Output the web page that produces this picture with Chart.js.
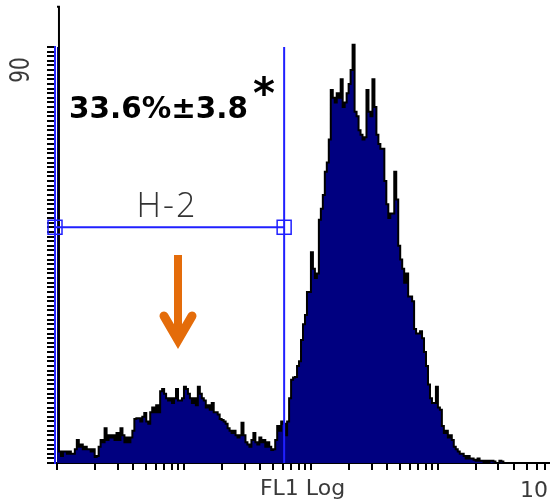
<!DOCTYPE html>
<html>
<head>
<meta charset="utf-8">
<script src="https://cdn.jsdelivr.net/npm/chart.js@4.4.1/dist/chart.umd.min.js"></script>
<style>
  body { margin: 0; background: #fff; overflow: hidden; }
</style>
</head>
<body>
<canvas id="myChart" width="550" height="504"></canvas>
<script>
// FL1 histogram: 256 channels, 4 log decades (64 channels per decade)
const counts = [
  98.7, 2.5, 1.5, 2.5, 2.5, 2, 2.5, 2, 2, 3,
  5, 3.5, 4, 3, 3.5, 3, 3, 2.5, 3, 1.3,
  1.5, 3.5, 5, 4.5, 7.5, 5, 6, 5.5, 6, 5,
  6.5, 5, 7.5, 6, 4.5, 5.5, 4.5, 5.5, 7, 9.5,
  9.7, 9.7, 9, 10, 10.8, 9, 8.5, 11, 12, 11,
  12.5, 11, 15.5, 16, 15, 14, 13.5, 14, 13, 14,
  16, 13.5, 13.5, 14, 16.5, 16, 15, 14, 13, 14,
  12.5, 16.5, 15, 14, 13.5, 12, 12.5, 11.5, 13, 11,
  11, 10.5, 9.5, 9.3, 9, 8.5, 7.5, 7, 6.5, 7,
  6, 5.5, 6, 8.7, 6, 4.5, 4, 3.5, 5, 6.5,
  4.5, 4, 5.5, 4.5, 5, 3.5, 4.5, 3.5, 2.8, 3,
  5, 8, 7, 9, 8.5, 6, 9, 14, 18, 18.5,
  18.6, 21, 22, 26.6, 30, 32, 37, 37, 45.6, 42,
  40, 41, 52.6, 55, 58, 63, 65, 70, 80.7, 79,
  78, 80, 79, 83, 77, 78, 80, 82, 85, 90.5,
  76, 75, 72, 71, 70, 70.5, 80.7, 76, 75, 83,
  77, 71, 69, 68, 68, 61, 56, 53, 54, 54,
  63, 57, 47, 44, 42, 39, 41, 36, 36, 35,
  29, 28, 28, 28.5, 27, 24, 21, 17, 14, 13,
  13, 16.5, 12, 11.5, 8, 6.5, 7, 5.5, 6, 5,
  3.5, 3, 2.5, 2, 2, 1.5, 1, 1.5, 1, 1,
  0.7, 0.5, 1, 0.5, 0.5, 0, 0.5, 0, 0.5, 0.5,
  0.3, 0, 0, 0.5, 0.3, 0, 0, 0, 0, 0,
  0, 0, 0, 0, 0, 0, 0, 0, 0, 0,
  0, 0, 0, 0, 0, 0, 0, 0, 0, 0,
  0, 0, 0, 0, 0, 0
];
const channelsPerDecade = 64;
const decades = [0, 1, 2, 3];
const minorSteps = [1, 2, 3, 4, 5, 6, 7, 8, 9];
const yMax = 90;
const yMaxLabel = '90';
const xEndLabel = '10';
const axisTitle = 'FL1 Log';
const gateName = 'H-2';
const gateRange = [-1, 114.5];   // channels
const gateLevel = 51;            // counts
const gateStat = '33.6%±3.8';
const arrowChannel = 61;

const xMin = -1, xMax = 248.5;
const blue = '#2020ff';

const overlay = {
  id: 'overlay',
  afterDatasetsDraw(chart) {
    const { ctx, scales: { x, y } } = chart;
    ctx.save();

    // gate marker H-2
    const gx0 = x.getPixelForValue(gateRange[0]);
    const gx1 = x.getPixelForValue(gateRange[1]);
    const gy = y.getPixelForValue(gateLevel);
    ctx.strokeStyle = blue;
    ctx.lineWidth = 2;
    ctx.beginPath();
    ctx.moveTo(gx1, y.getPixelForValue(yMax));
    ctx.lineTo(gx1, y.getPixelForValue(0));
    ctx.moveTo(gx0, gy);
    ctx.lineTo(gx1, gy);
    ctx.stroke();
    ctx.lineWidth = 1.5;
    ctx.strokeRect(gx0 - 7, gy - 7, 14, 14);
    ctx.strokeRect(gx1 - 7, gy - 7, 14, 14);

    ctx.fillStyle = '#333';
    ctx.font = '300 34px "Open Sans"';
    ctx.textAlign = 'center';
    ctx.textBaseline = 'alphabetic';
    ctx.letterSpacing = '2px';
    ctx.fillText(gateName, 167, 217);
    ctx.letterSpacing = '0px';

    // percentage in gate
    ctx.fillStyle = '#000';
    ctx.textAlign = 'left';
    ctx.font = 'bold 31px "DejaVu Sans"';
    ctx.fillText(gateStat, 69, 118, 179);
    ctx.font = 'bold 42px "DejaVu Sans"';
    ctx.fillText('*', 253, 108);

    // orange arrow
    const ax = x.getPixelForValue(arrowChannel);
    ctx.strokeStyle = '#e46c0a';
    ctx.lineWidth = 8;
    ctx.lineCap = 'butt';
    ctx.beginPath();
    ctx.moveTo(ax, 255);
    ctx.lineTo(ax, 334);
    ctx.stroke();
    ctx.lineWidth = 9;
    ctx.lineCap = 'round';
    ctx.lineJoin = 'miter';
    ctx.beginPath();
    ctx.moveTo(ax - 14, 316);
    ctx.lineTo(ax, 340);
    ctx.lineTo(ax + 14, 316);
    ctx.stroke();
    ctx.restore();
  },
  afterDraw(chart) {
    const { ctx, scales: { y } } = chart;
    ctx.save();
    ctx.fillStyle = '#3a3a3a';
    // rotated max count label
    ctx.translate(22.5, y.getPixelForValue(yMax) + 23);
    ctx.rotate(-Math.PI / 2);
    ctx.scale(1, 1.3);
    ctx.font = '20px "DejaVu Sans"';
    ctx.textAlign = 'center';
    ctx.textBaseline = 'middle';
    ctx.fillText(yMaxLabel, 0, 0);
    ctx.restore();

    ctx.save();
    ctx.fillStyle = '#3a3a3a';
    ctx.font = '22px "DejaVu Sans"';
    ctx.textAlign = 'right';
    ctx.fillText(xEndLabel, 548, 497);
    ctx.restore();
  }
};

const xTickChannels = decades
  .flatMap(d => minorSteps.map(k => channelsPerDecade * (d + Math.log10(k))))
  .filter(v => v >= xMin && v <= xMax);
const yTickValues = Array.from({ length: yMax + 1 }, (_, i) => i);

const ctx = document.getElementById('myChart').getContext('2d');
const myChart = new Chart(ctx, {
  type: 'line',
  data: {
    datasets: [{
      data: counts.map((c, i) => ({ x: i, y: c })),
      stepped: true,
      fill: 'origin',
      backgroundColor: '#000080',
      borderColor: '#000',
      borderWidth: 2,
      pointRadius: 0,
      clip: false
    }]
  },
  options: {
    responsive: false,
    animation: false,
    devicePixelRatio: 1,
    layout: { padding: { left: 47, top: 47, right: 0, bottom: 0 } },
    plugins: { legend: { display: false }, tooltip: { enabled: false } },
    scales: {
      x: {
        type: 'linear',
        min: xMin,
        max: xMax,
        afterBuildTicks: s => { s.ticks = xTickChannels.map(v => ({ value: v })); },
        ticks: { display: false },
        grid: { drawOnChartArea: false, drawTicks: true, tickLength: 7, color: '#000', lineWidth: 2 },
        border: { display: true, color: '#000', width: 2 },
        title: {
          display: true,
          text: axisTitle,
          color: '#3a3a3a',
          font: { family: 'DejaVu Sans', size: 22 },
          padding: { top: 5.6, bottom: 2 }
        }
      },
      y: {
        min: 0,
        max: yMax,
        afterBuildTicks: s => { s.ticks = yTickValues.map(v => ({ value: v })); },
        ticks: { display: false },
        grid: { drawOnChartArea: false, drawTicks: true, tickLength: 8, color: '#000', lineWidth: 2 },
        border: { display: true, color: blue, width: 2 }
      }
    }
  },
  plugins: [overlay]
});
</script>
</body>
</html>
